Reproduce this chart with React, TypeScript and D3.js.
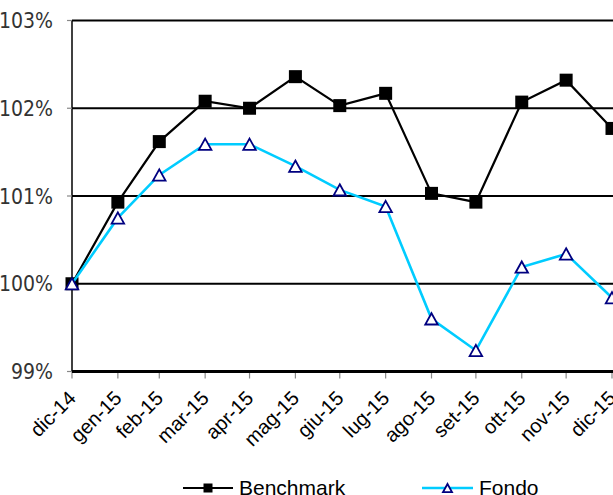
import React from 'react';
import * as d3 from 'd3';

// month-end dates, labels and the two series (values in %)
const MONTH_ENDS = [
  '2014-12-31', '2015-01-31', '2015-02-28', '2015-03-31', '2015-04-30', '2015-05-31', '2015-06-30',
  '2015-07-31', '2015-08-31', '2015-09-30', '2015-10-31', '2015-11-30', '2015-12-31'
];
const MONTH_LABELS = [
  'dic-14', 'gen-15', 'feb-15', 'mar-15', 'apr-15', 'mag-15', 'giu-15',
  'lug-15', 'ago-15', 'set-15', 'ott-15', 'nov-15', 'dic-15'
];
const BENCHMARK = [100, 100.93, 101.62, 102.08, 102.0, 102.36, 102.03, 102.17, 101.03, 100.93, 102.07, 102.32, 101.77];
const FONDO = [100, 100.75, 101.24, 101.59, 101.59, 101.34, 101.07, 100.88, 99.6, 99.24, 100.19, 100.34, 99.84];
const Y_TICKS = [99, 100, 101, 102, 103];

const W = 613;
const H = 495;
const LEFT = 72;
const RIGHT = 612;
const TOP = 20.5;
const BOTTOM = 371.5;

const parse = d3.timeParse('%Y-%m-%d');

export default function App() {
  const dates = MONTH_ENDS.map(d => parse(d) as Date);

  const x = d3.scaleTime()
    .domain([dates[0], dates[dates.length - 1]])
    .range([LEFT, RIGHT]);

  const y = d3.scaleLinear()
    .domain([99, 103])
    .range([BOTTOM, TOP]);

  const line = d3.line<number>()
    .x((_, i) => x(dates[i]))
    .y(v => y(v));

  const tri = (cx: number, cy: number, s: number) => {
    const h = s * 0.9;
    return `M${cx},${cy - h / 2}L${cx + s / 2},${cy + h / 2}L${cx - s / 2},${cy + h / 2}Z`;
  };

  return (
    <div style={{ position: 'fixed', left: 0, top: 0 }}>
      <svg width={W} height={H} style={{ display: 'block', background: '#fff' }}>
        {/* grid lines */}
        {Y_TICKS.filter(t => t > 99).map(t => (
          <line key={t} x1={LEFT} x2={W} y1={y(t)} y2={y(t)} stroke="#000" strokeWidth={2} />
        ))}
        {/* y axis */}
        <line x1={LEFT} x2={LEFT} y1={TOP} y2={BOTTOM} stroke="#000" strokeWidth={1.5} />
        {Y_TICKS.map(t => (
          <g key={t}>
            <line x1={LEFT - 5} x2={LEFT} y1={y(t)} y2={y(t)} stroke="#888" strokeWidth={1.2} />
            <text
              x={53}
              y={y(t)}
              dy="0.36em"
              textAnchor="end"
              fontFamily="'Liberation Sans Narrow', 'DejaVu Sans Condensed', 'Liberation Sans', sans-serif"
              fontSize={21}
              fill="#333"
            >
              {t}%
            </text>
          </g>
        ))}
        {/* x axis */}
        {dates.map((d, i) => (
          <g key={i}>
            <line x1={x(d)} x2={x(d)} y1={BOTTOM} y2={BOTTOM + 7} stroke="#888" strokeWidth={1.2} />
            <text
              transform={`translate(${x(d) + 5},${BOTTOM + 28}) rotate(-45)`}
              textAnchor="end"
              fontFamily="'Liberation Sans', Arial, sans-serif"
              fontSize={20}
              fill="#000"
            >
              {MONTH_LABELS[i]}
            </text>
          </g>
        ))}
        <line x1={LEFT} x2={W} y1={BOTTOM} y2={BOTTOM} stroke="#000" strokeWidth={3} />

        {/* Benchmark */}
        <path d={line(BENCHMARK) || ''} fill="none" stroke="#000" strokeWidth={2.2} />
        {BENCHMARK.map((v, i) => (
          <rect key={i} x={x(dates[i]) - 6.5} y={y(v) - 6.5} width={13} height={13} fill="#000" />
        ))}

        {/* Fondo */}
        <path d={line(FONDO) || ''} fill="none" stroke="#00CCFF" strokeWidth={2.6} />
        {FONDO.map((v, i) => (
          <path key={i} d={tri(x(dates[i]), y(v), 12.5)} fill="#fff" stroke="#000080" strokeWidth={1.8} />
        ))}

        {/* legend */}
        <g fontFamily="'Liberation Sans', Arial, sans-serif" fontSize={21}>
          <line x1={183} x2={233} y1={488} y2={488} stroke="#000" strokeWidth={2.2} />
          <rect x={203.5} y={483.5} width={9} height={9} fill="#000" />
          <text x={239} y={495} fill="#000">Benchmark</text>
          <line x1={422} x2={473} y1={488} y2={488} stroke="#00CCFF" strokeWidth={2.6} />
          <path d={tri(447.5, 488, 9)} fill="#fff" stroke="#000080" strokeWidth={1.8} />
          <text x={479} y={495} fill="#000">Fondo</text>
        </g>
      </svg>
    </div>
  );
}
